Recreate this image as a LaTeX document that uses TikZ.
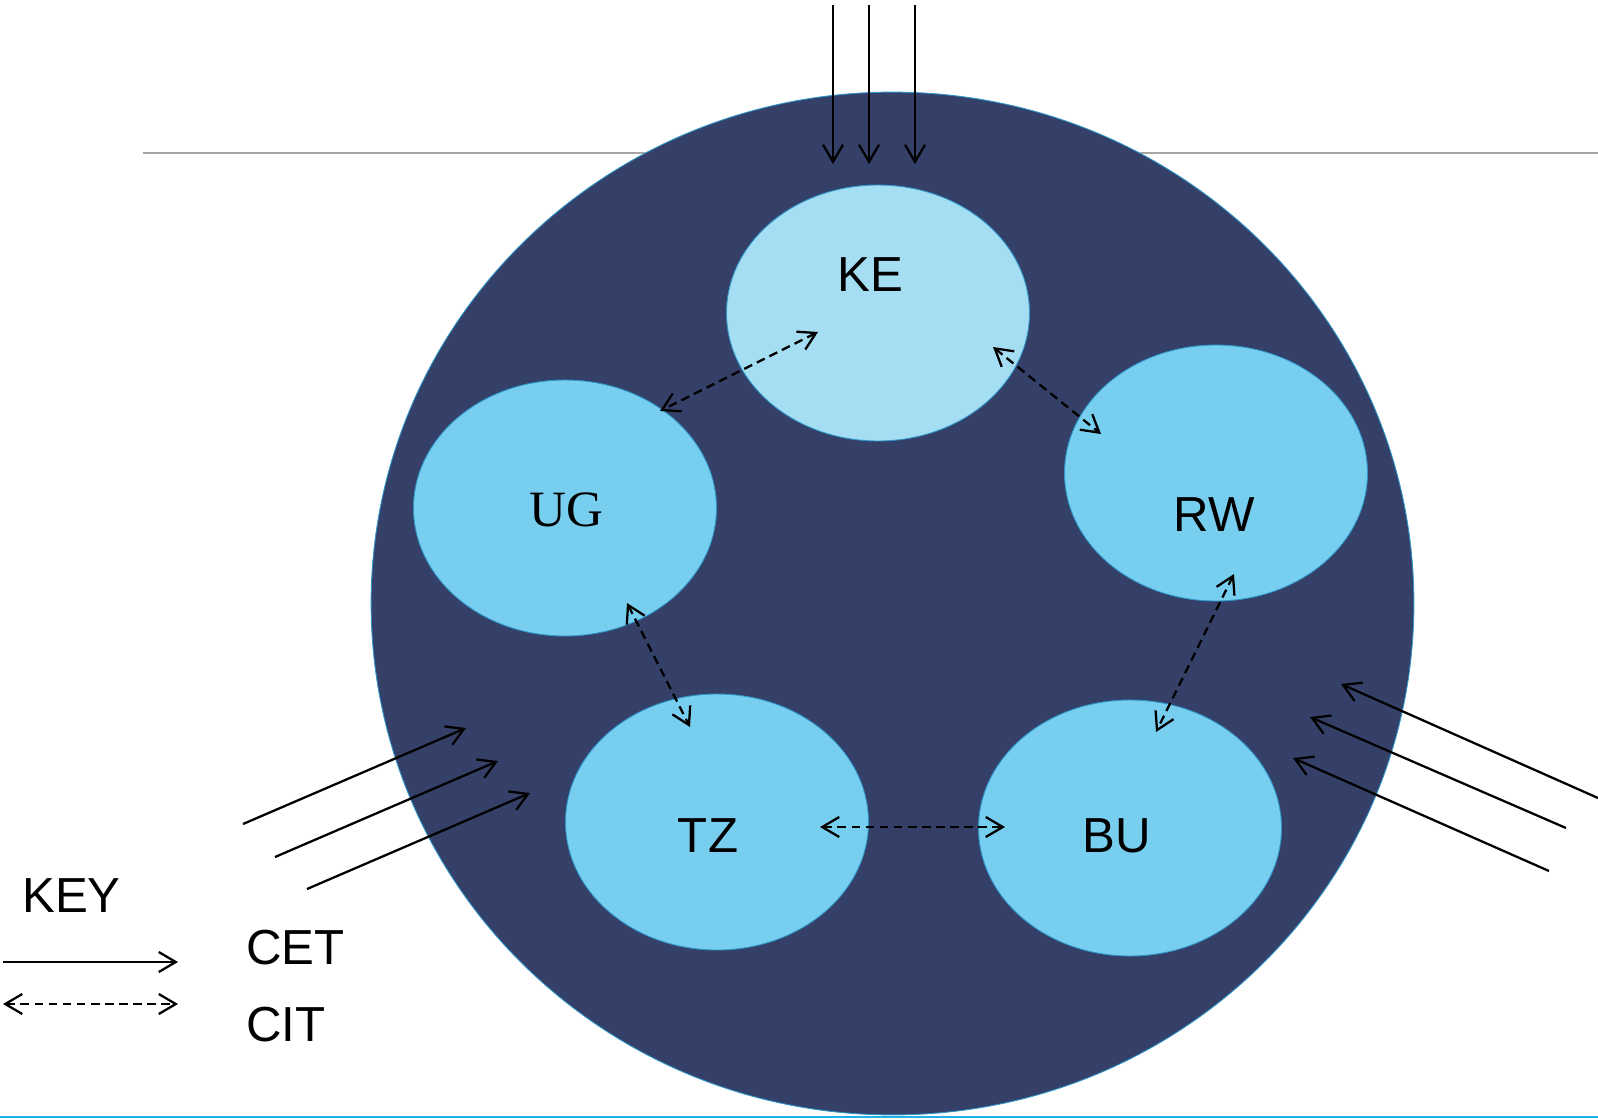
\documentclass[tikz,border=0pt]{standalone}
\usepackage{fontspec}
\setmainfont{Liberation Sans}
\newfontfamily\serifug{Liberation Serif}
\usetikzlibrary{shapes.geometric,arrows.meta,positioning,calc}

\definecolor{navy}{RGB}{53,64,105}
\definecolor{paleblue}{RGB}{165,222,243}
\definecolor{skyblue}{RGB}{120,206,239}
\definecolor{rimblue}{RGB}{46,150,200}
\definecolor{ruleblue}{RGB}{30,178,230}

\tikzset{
    country/.style={ellipse, draw=rimblue, line width=0.5pt, fill=skyblue, minimum width=6.06cm, minimum height=5.12cm, inner sep=0pt},
    tag/.style={font=\fontsize{28}{33}\selectfont, inner sep=0pt},
    cet/.style={-{Straight Barb[length=3.4mm,width=4mm]}, line width=1.3pt},
    cit/.style={{Straight Barb[length=3.4mm,width=4mm]}-{Straight Barb[length=3.4mm,width=4mm]}, line width=1.3pt, dash pattern=on 5pt off 3pt},
}

\begin{document}
\begin{tikzpicture}[x=0.02cm, y=-0.02cm]
    \useasboundingbox (0,0) rectangle (1598,1119);

    % Rules
    \coordinate (ruleL) at (143,153);
    \coordinate (ruleR) at (1598,153);
    \draw[gray!70, line width=0.6pt] (ruleL) -- (ruleR);
    \coordinate (baseL) at (0,1117);
    \coordinate (baseR) at (1598,1117);
    \draw[ruleblue, line width=1.4pt] (baseL) -- (baseR);

    % Community
    \node[ellipse, draw=rimblue, line width=0.5pt, fill=navy, minimum width=20.86cm, minimum height=20.46cm] (eac) at (892.5,603.5) {};

    % Partner states
    \node[country, fill=paleblue, label={[tag, xshift=-0.16cm, yshift=0.76cm]center:KE}] (ke) at (878,313) {};
    \node[country, label={[tag, font=\serifug\fontsize{29}{33}\selectfont, xshift=0.02cm, yshift=-0.04cm]center:UG}] (ug) at (565,508) {};
    \node[country, label={[tag, xshift=-0.04cm, yshift=-0.84cm]center:RW}] (rw) at (1216,473) {};
    \node[country, label={[tag, xshift=-0.18cm, yshift=-0.28cm]center:TZ}] (tz) at (717,822) {};
    \node[country, label={[tag, xshift=-0.26cm, yshift=-0.16cm]center:BU}] (bu) at (1130,828) {};

    % Internal trade
    \draw[cit] ($(ke)+(-60,19)$) -- ($(ug)+(95,-97)$);
    \draw[cit] ($(ke)+(115,34)$) -- ($(rw)+(-115,-39)$);
    \draw[cit] ($(ug)+(62,95)$) -- ($(tz)+(-27,-95)$);
    \draw[cit] ($(rw)+(18,101)$) -- ($(bu)+(26,-96)$);
    \draw[cit] ($(tz)+(103,5)$) -- ($(bu)+(-125,-1)$);

    % External trade
    \foreach \x [count=\i] in {833,869,915} {
        \coordinate (north\i) at (\x,5);
        \coordinate (northtip\i) at (\x,164);
        \draw[cet] (north\i) -- (northtip\i);
    }
    \foreach \x/\y [count=\i] in {243/824, 275/857, 307/889} {
        \coordinate (west\i) at (\x,\y);
        \coordinate (westtip\i) at ($(west\i)+(223,-96)$);
        \draw[cet] (west\i) -- (westtip\i);
    }
    \foreach \x/\y/\u/\v [count=\i] in {1598/798/1341/684, 1566/828/1310/717, 1549/871/1293/758} {
        \coordinate (east\i) at (\x,\y);
        \coordinate (easttip\i) at (\u,\v);
        \draw[cet] (east\i) -- (easttip\i);
    }

    % Key
    \node[tag, anchor=west] (key) at (22,896) {KEY};
    \node[tag, anchor=west] (cetlabel) at (246,948) {CET};
    \node[tag, anchor=west] (citlabel) at (246,1025) {CIT};
    \coordinate (cetA) at (3,962);
    \coordinate (cetB) at (178,962);
    \draw[cet] (cetA) -- (cetB);
    \coordinate (citA) at (3,1004);
    \coordinate (citB) at (178,1004);
    \draw[cit] (citA) -- (citB);
\end{tikzpicture}
\end{document}
